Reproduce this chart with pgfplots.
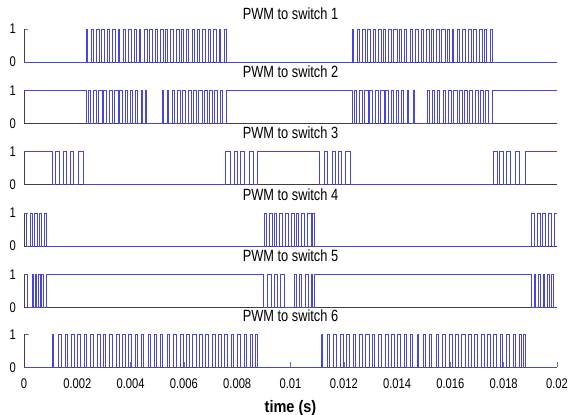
\documentclass[border=0pt]{standalone}
\usepackage{pgfplots}
\pgfplotsset{compat=1.18}
\usepackage{fontspec}
\setmainfont{Liberation Sans}
\definecolor{pwmblue}{RGB}{70,70,222}
\newcommand\sy[1]{\scalebox{1}[1.25]{#1}}
\newcommand\st[1]{\scalebox{1}[1.27]{#1}}
\pgfplotsset{
 pwmline/.style={const plot, draw=pwmblue, line width=0.5pt, mark=none},
 pwm/.style={
  scale only axis, width=533pt, height=33pt,
  xmin=0, xmax=20, ymin=0, ymax=1,
  axis x line*=bottom, axis y line*=left,
  axis line style={draw=black!75, line width=0.6pt, -},
  ytick={0,1}, yticklabels={\sy{0},\sy{1}},
  xtick=\empty,
  tick align=inside, major tick length=4pt,
  tick style={black!55, line width=0.5pt},
  clip=false, anchor=south west,
  title style={at={(0.5,1)}, anchor=base, yshift=7pt, inner sep=0pt, font=\fontsize{12.8}{14}\selectfont},
  yticklabel style={font=\fontsize{11.2}{13}\selectfont, anchor=east, inner sep=0pt, xshift=-8pt},
 }}
\begin{document}
\begin{tikzpicture}
\useasboundingbox (0pt,0pt) rectangle (568pt,-415pt);

% switch 1
\begin{axis}[pwm, at={(24pt,-62pt)}, title={\st{PWM to switch 1}}, title style={yshift=-3.5pt}]
\addplot[pwmline] coordinates {(0,0)
(2.33,1)(2.38,0)(2.52,1)(2.60,0)(2.72,1)(2.82,0)(2.91,1)(3.03,0)(3.12,1)(3.21,0)
(3.31,1)(3.42,0)(3.52,1)(3.59,0)(3.71,1)(3.81,0)(3.90,1)(4.02,0)(4.12,1)(4.20,0)
(4.31,1)(4.38,0)(4.51,1)(4.61,0)(4.70,1)(4.82,0)(4.92,1)(5.01,0)(5.11,1)(5.22,0)
(5.31,1)(5.38,0)(5.50,1)(5.60,0)(5.70,1)(5.82,0)(5.91,1)(5.99,0)(6.10,1)(6.15,0)
(6.30,1)(6.38,0)(6.49,1)(6.59,0)(6.69,1)(6.81,0)(6.90,1)(6.99,0)(7.10,1)(7.21,0)
(7.31,1)(7.38,0)(7.51,1)(7.58,0)
(12.30,1)(12.35,0)(12.49,1)(12.57,0)(12.69,1)(12.79,0)(12.88,1)(13.00,0)(13.09,1)(13.18,0)
(13.28,1)(13.39,0)(13.49,1)(13.56,0)(13.68,1)(13.78,0)(13.87,1)(13.99,0)(14.09,1)(14.17,0)
(14.28,1)(14.35,0)(14.48,1)(14.58,0)(14.67,1)(14.79,0)(14.89,1)(14.98,0)(15.08,1)(15.19,0)
(15.28,1)(15.35,0)(15.47,1)(15.57,0)(15.67,1)(15.79,0)(15.88,1)(15.96,0)(16.07,1)(16.12,0)
(16.27,1)(16.35,0)(16.46,1)(16.56,0)(16.66,1)(16.78,0)(16.87,1)(16.96,0)(17.07,1)(17.18,0)
(17.28,1)(17.35,0)(17.48,1)(17.56,0)(20,0)};
\end{axis}

% switch 2
\begin{axis}[pwm, at={(24pt,-123.5pt)}, title={\st{PWM to switch 2}}]
\addplot[pwmline] coordinates {(0,1)(2.33,0)
(2.40,1)(2.50,0)(2.60,1)(2.72,0)(2.79,1)(2.92,0)(2.99,1)(3.10,0)(3.19,1)(3.30,0)
(3.39,1)(3.52,0)(3.59,1)(3.70,0)(3.79,1)(3.88,0)(3.99,1)(4.08,0)(4.19,1)(4.26,0)
(4.39,1)(4.44,0)(4.55,1)(4.60,0)
(5.18,1)(5.23,0)(5.36,1)(5.42,0)(5.55,1)(5.63,0)(5.75,1)(5.85,0)(5.95,1)(6.06,0)
(6.15,1)(6.28,0)(6.35,1)(6.46,0)(6.55,1)(6.68,0)(6.75,1)(6.86,0)(6.95,1)(7.07,0)
(7.15,1)(7.25,0)(7.35,1)(7.44,0)(7.58,1)
(12.30,0)(12.38,1)(12.48,0)(12.57,1)(12.69,0)(12.77,1)(12.90,0)(12.97,1)(13.08,0)
(13.17,1)(13.28,0)(13.37,1)(13.50,0)(13.57,1)(13.68,0)(13.77,1)(13.86,0)(13.97,1)(14.06,0)
(14.17,1)(14.24,0)(14.37,1)(14.42,0)(14.60,1)(14.66,0)
(15.15,1)(15.20,0)(15.33,1)(15.40,0)(15.52,1)(15.60,0)(15.72,1)(15.82,0)(15.92,1)(16.03,0)
(16.12,1)(16.25,0)(16.32,1)(16.43,0)(16.52,1)(16.65,0)(16.72,1)(16.83,0)(16.92,1)(17.04,0)
(17.12,1)(17.22,0)(17.32,1)(17.41,0)(17.56,1)(20,1)};
\end{axis}

% switch 3
\begin{axis}[pwm, at={(24pt,-184.5pt)}, title={\st{PWM to switch 3}}]
\addplot[pwmline] coordinates {(0,1)(1.06,0)(1.16,1)(1.31,0)(1.46,1)(1.60,0)(1.72,1)(1.84,0)(2.03,1)(2.22,0)
(7.57,1)(7.75,0)(7.88,1)(8.00,0)(8.13,1)(8.28,0)(8.44,1)(8.59,0)(8.75,1)
(11.09,0)(11.25,1)(11.38,0)(11.55,1)(11.68,0)(11.80,1)(11.92,0)(12.05,1)(12.24,0)
(17.62,1)(17.75,0)(17.85,1)(17.97,0)(18.11,1)(18.26,0)(18.42,1)(18.57,0)(18.79,1)(20,1)};
\end{axis}

% switch 4
\begin{axis}[pwm, at={(24pt,-246pt)}, title={\st{PWM to switch 4}}]
\addplot[pwmline] coordinates {(0,1)(0.10,0)(0.22,1)(0.30,0)(0.40,1)(0.48,0)(0.56,1)(0.64,0)(0.76,1)(0.82,0)
(9.00,1)(9.08,0)(9.20,1)(9.30,0)(9.38,1)(9.48,0)(9.57,1)(9.69,0)(9.79,1)(9.92,0)
(10.01,1)(10.13,0)(10.22,1)(10.29,0)(10.42,1)(10.51,0)(10.63,1)(10.76,0)(10.82,1)(10.88,0)
(19.04,1)(19.14,0)(19.26,1)(19.36,0)(19.45,1)(19.55,0)(19.67,1)(19.80,0)(19.88,1)(20,1)};
\end{axis}

% switch 5
\begin{axis}[pwm, at={(24pt,-307.3pt)}, title={\st{PWM to switch 5}}]
\addplot[pwmline] coordinates {(0,1)(0.12,0)(0.31,1)(0.36,0)(0.41,1)(0.47,0)(0.54,1)(0.60,0)(0.66,1)(0.72,0)(0.85,1)
(8.98,0)(9.11,1)(9.26,0)(9.38,1)(9.51,0)(9.63,1)(9.76,0)
(10.13,1)(10.22,0)(10.32,1)(10.42,0)(10.54,1)(10.67,0)(10.76,1)(10.82,0)(10.88,1)
(19.04,0)(19.14,1)(19.20,0)(19.30,1)(19.36,0)(19.47,1)(19.53,0)(19.64,1)(19.70,0)(19.80,1)(19.86,0)(20,0)};
\end{axis}

% switch 6
\begin{axis}[pwm, at={(24pt,-367.3pt)}, title={\st{PWM to switch 6}},
  xtick={0,2,4,6,8,10,12,14,16,18,20},
  xticklabels={\sy{0},\sy{0.002},\sy{0.004},\sy{0.006},\sy{0.008},\sy{0.01},\sy{0.012},\sy{0.014},\sy{0.016},\sy{0.018},\sy{0.02}},
  xticklabel style={font=\fontsize{11.2}{13}\selectfont, anchor=north, inner sep=0pt, yshift=-11pt},
  major tick length=5pt,
  xlabel={\scalebox{1}[1.15]{\textbf{time (s)}}},
  xlabel style={at={(axis description cs:0.5,0)}, anchor=base, inner sep=0pt, yshift=-45pt, font=\fontsize{14.5}{16}\selectfont}]
\addplot[pwmline] coordinates {(0,0)
(1.05,1)(1.11,0)(1.29,1)(1.38,0)(1.53,1)(1.64,0)(1.77,1)(1.90,0)(2.01,1)(2.12,0)
(2.25,1)(2.34,0)(2.49,1)(2.61,0)(2.73,1)(2.86,0)(2.97,1)(3.06,0)(3.21,1)(3.31,0)
(3.45,1)(3.57,0)(3.69,1)(3.81,0)(3.93,1)(4.01,0)(4.17,1)(4.26,0)(4.41,1)(4.48,0)
(4.65,1)(4.72,0)(4.89,1)(4.95,0)(5.13,1)(5.20,0)(5.37,1)(5.45,0)(5.61,1)(5.72,0)
(5.85,1)(5.97,0)(6.09,1)(6.20,0)(6.33,1)(6.46,0)(6.57,1)(6.69,0)(6.81,1)(6.92,0)
(7.05,1)(7.18,0)(7.29,1)(7.41,0)(7.53,1)(7.64,0)(7.77,1)(7.86,0)(8.01,1)(8.12,0)
(8.25,1)(8.33,0)(8.49,1)(8.56,0)(8.68,1)(8.74,0)
(11.14,1)(11.20,0)(11.38,1)(11.47,0)(11.62,1)(11.73,0)(11.86,1)(11.99,0)(12.10,1)(12.21,0)
(12.34,1)(12.43,0)(12.58,1)(12.70,0)(12.82,1)(12.95,0)(13.06,1)(13.15,0)(13.30,1)(13.40,0)
(13.54,1)(13.66,0)(13.78,1)(13.90,0)(14.02,1)(14.10,0)(14.26,1)(14.35,0)(14.50,1)(14.57,0)
(14.74,1)(14.81,0)(14.98,1)(15.04,0)(15.22,1)(15.29,0)(15.46,1)(15.54,0)(15.70,1)(15.81,0)
(15.94,1)(16.06,0)(16.18,1)(16.29,0)(16.42,1)(16.55,0)(16.66,1)(16.78,0)(16.90,1)(17.01,0)
(17.14,1)(17.27,0)(17.38,1)(17.50,0)(17.62,1)(17.73,0)(17.86,1)(17.95,0)(18.10,1)(18.21,0)
(18.34,1)(18.42,0)(18.58,1)(18.65,0)(18.74,1)(18.80,0)(20,0)};
\end{axis}
\end{tikzpicture}
\end{document}
